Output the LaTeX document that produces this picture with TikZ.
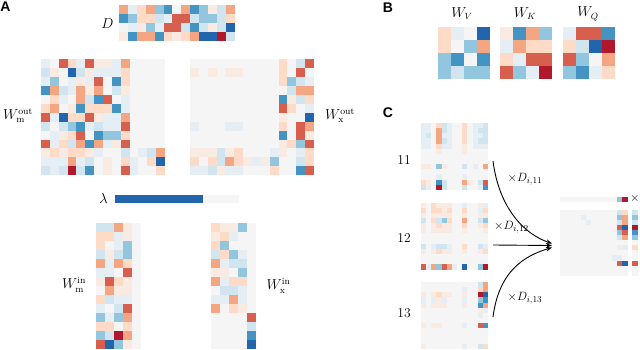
\documentclass[tikz,border=0pt]{standalone}
\usepackage{fontspec}
\usetikzlibrary{arrows.meta}
\newfontfamily\panelfont{Liberation Sans}
\definecolor{hma}{HTML}{B2182B}
\definecolor{hmr}{HTML}{D6604D}
\definecolor{hmo}{HTML}{F4A582}
\definecolor{hmp}{HTML}{FDDBC7}
\definecolor{hmq}{HTML}{F9EAE2}
\definecolor{hmw}{HTML}{F5F5F5}
\definecolor{hme}{HTML}{E4EEF4}
\definecolor{hmc}{HTML}{D1E5F0}
\definecolor{hml}{HTML}{92C5DE}
\definecolor{hmb}{HTML}{4393C3}
\definecolor{hmd}{HTML}{2166AC}
% #1 x, #2 y, #3 cell width, #4 cell height, #5 rows
\newcommand\hmap[5]{%
  \foreach \row [count=\i] in {#5} {%
    \foreach \v [count=\j] in \row {%
      \fill[hm\v] ({#1+(\j-1)*#3},{#2+(\i-1)*#4}) rectangle ++({#3+0.3},{#4+0.3});
    }%
  }%
}
\tikzset{
  lbl/.style={font=\fontsize{13.5}{15}\selectfont, inner sep=0pt},
  clbl/.style={font=\fontsize{12.5}{14}\selectfont, inner sep=0pt},
  panel/.style={font=\panelfont\bfseries\fontsize{14}{16}\selectfont, inner sep=0pt},
  arr/.style={-{Stealth[length=6pt,width=4.5pt]}, line width=0.9pt}
}
\begin{document}
\begin{tikzpicture}[x=1pt,y=-1pt]
\useasboundingbox (0,0) rectangle (640,350);
% panel labels
\node[panel] (pA) at (5.5,7) {A};
\node[panel] (pB) at (388,7.5) {B};
\node[panel] (pC) at (388,112.5) {C};
% D
\node[lbl] (lD) at (107.5,23.5) {$D$};
\hmap{119}{5}{8.9}{9}{
 {o,e,p,o,l,b,w,o,b,l,q,c,o},
 {b,l,p,p,c,e,r,r,c,l,l,c,p},
 {w,e,q,l,e,r,r,c,b,c,q,c,d},
 {q,b,o,o,b,p,q,p,o,d,d,a,c}}
% W_m^out
\node[lbl] (lWmo) at (18,115.5) {$W_{\mathrm{m}}^{\mathrm{out}}$};
\hmap{41}{59.5}{8.86}{8.9}{
 {e,w,r,p,e,r,q,q,e,o,w,w,w,w},
 {c,q,w,d,c,q,e,e,e,p,w,w,w,w},
 {e,l,w,e,q,e,r,w,b,p,w,w,w,w},
 {b,o,c,e,o,q,o,w,c,q,w,w,w,w},
 {w,p,e,w,o,c,b,r,w,e,w,w,w,w},
 {p,o,w,q,b,p,p,p,b,e,w,w,w,w},
 {r,e,d,p,p,r,q,e,e,o,w,w,w,w},
 {c,w,c,l,b,e,c,e,e,r,w,w,w,w},
 {w,e,q,p,r,w,b,l,l,p,w,w,w,w},
 {r,e,p,c,o,b,o,e,q,r,w,w,w,w},
 {q,p,q,p,p,q,e,w,w,c,w,e,c,o},
 {e,e,e,o,e,c,w,q,w,p,e,w,p,d},
 {c,e,c,a,c,b,w,q,w,r,e,w,w,p}}
% W_x^out
\node[lbl] (lWxo) at (340,115.5) {$W_{\mathrm{x}}^{\mathrm{out}}$};
\hmap{190}{59.5}{8.86}{8.9}{
 {w,w,w,w,w,w,w,w,w,w,p,w,c,r},
 {q,w,q,w,q,q,w,w,w,w,p,w,r,w},
 {w,w,w,w,w,w,w,w,w,w,p,l,c,e},
 {w,w,w,w,w,w,w,w,w,w,w,c,o,o},
 {w,w,w,w,w,w,w,w,w,w,b,q,c,p},
 {w,w,w,w,w,w,w,w,w,w,r,p,w,e},
 {w,w,w,w,w,w,w,w,w,w,q,w,w,d},
 {e,w,w,w,e,e,w,w,w,w,p,w,r,o},
 {w,w,w,w,w,w,w,w,w,w,b,w,r,q},
 {w,w,w,w,w,w,w,w,w,w,q,p,l,r},
 {q,q,q,c,q,p,w,w,w,e,q,w,e,p},
 {p,w,p,c,o,p,q,e,q,l,w,w,c,p},
 {e,e,c,q,e,e,w,w,w,p,w,w,b,r}}
% lambda
\node[lbl] (llam) at (103.5,199) {$\lambda$};
\hmap{115}{194.5}{8.8}{8.5}{{d,d,d,d,d,d,d,d,d,d,w,w,w,w}}
% W_m^in
\node[lbl] (lWmi) at (74,285) {$W_{\mathrm{m}}^{\mathrm{in}}$};
\hmap{96}{222.5}{8.9}{9}{
 {c,c,o,q,w},
 {p,p,e,q,w},
 {p,w,e,l,w},
 {c,q,c,l,w},
 {o,e,o,p,w},
 {e,e,w,r,w},
 {q,r,p,q,w},
 {w,o,q,q,w},
 {p,c,e,e,w},
 {e,w,c,r,w},
 {l,e,l,o,w},
 {p,p,w,p,w},
 {l,c,a,o,w},
 {r,d,l,q,w}}
% W_x^in
\node[lbl] (lWxi) at (278.5,286) {$W_{\mathrm{x}}^{\mathrm{in}}$};
\hmap{211}{222.5}{8.9}{9}{
 {p,q,q,l,w},
 {q,p,e,w,w},
 {p,l,w,w,w},
 {c,p,l,e,w},
 {o,e,c,c,w},
 {q,q,w,l,w},
 {o,e,p,p,w},
 {w,c,c,e,w},
 {e,e,o,e,w},
 {o,w,p,q,w},
 {w,w,w,w,r},
 {w,w,w,w,c},
 {w,w,w,w,b},
 {w,w,w,w,d}}
% B
\node[lbl] (lWV) at (462,14) {$W_V$};
\node[lbl] (lWK) at (525,14) {$W_K$};
\node[lbl] (lWQ) at (588,14) {$W_Q$};
\hmap{438}{27}{13}{13}{
 {p,e,w,d},
 {p,w,l,o},
 {l,b,w,b},
 {l,c,l,l}}
\hmap{500}{27}{13}{13}{
 {q,b,o,l},
 {e,o,p,p},
 {p,e,r,r},
 {r,l,e,a}}
\hmap{563}{27}{13}{13}{
 {e,r,r,b},
 {p,c,d,a},
 {r,l,w,o},
 {l,b,e,p}}
% C
\node[lbl] (n11) at (404,160.5) {11};
\node[lbl] (n12) at (404,238.5) {12};
\node[lbl] (n13) at (404,313.5) {13};
\hmap{421}{123}{5.15}{5.15}{
 {e,e,w,p,c,e,w,w,p,w,e,e,c},
 {e,e,w,o,c,e,w,w,p,w,e,c,c},
 {e,c,w,o,e,e,w,w,p,w,e,e,c},
 {e,e,w,o,c,e,w,w,p,w,e,c,c},
 {e,e,w,p,e,e,w,w,q,w,e,e,e},
 {w,w,w,q,w,w,w,w,q,w,w,w,w},
 {w,w,w,w,w,w,w,w,w,w,w,w,w},
 {w,w,w,w,w,w,w,w,w,w,w,w,w},
 {q,q,w,l,q,w,w,w,c,w,e,w,o},
 {w,w,w,w,w,w,w,w,w,w,w,w,w},
 {w,w,w,e,w,w,w,w,e,w,w,w,w},
 {p,q,w,b,c,w,w,w,o,q,w,c,r},
 {c,e,w,a,c,w,w,w,c,w,w,e,b}}
\hmap{421}{202.5}{5.15}{5.15}{
 {q,w,p,q,q,q,w,w,e,w,w,q,e},
 {p,w,p,p,q,p,w,w,p,w,w,e,p},
 {q,w,q,q,q,q,w,w,q,w,w,q,q},
 {c,w,p,c,l,p,w,w,o,w,w,c,l},
 {q,w,q,p,q,q,w,w,p,w,w,q,p},
 {q,w,q,q,q,q,w,w,q,w,w,w,q},
 {w,w,w,w,w,w,w,w,w,w,w,w,w},
 {w,w,w,w,w,w,w,w,w,w,w,w,w},
 {c,w,e,c,c,e,w,w,p,w,w,c,e},
 {q,w,q,p,q,q,w,w,q,w,w,q,p},
 {w,w,w,w,w,w,w,w,w,w,w,w,w},
 {w,w,w,w,w,w,w,w,w,w,w,w,w},
 {r,e,o,l,r,o,e,w,d,w,w,l,a}}
\hmap{421}{282}{5.15}{5.15}{
 {w,w,w,w,w,w,w,w,w,w,w,c,o},
 {w,w,w,w,w,w,w,w,e,w,w,p,o},
 {q,w,q,p,q,q,w,w,q,w,w,a,d},
 {e,w,e,q,e,w,w,w,e,w,w,l,b},
 {q,w,q,q,q,w,w,w,q,w,w,b,o},
 {w,w,w,w,w,w,w,w,w,w,w,q,e},
 {w,w,w,w,w,w,w,w,w,w,w,e,w},
 {w,w,w,w,w,w,w,w,w,w,w,w,w},
 {q,w,q,q,w,w,w,w,e,w,w,r,b},
 {w,w,w,w,w,w,w,w,w,w,w,w,w},
 {w,w,w,w,w,w,w,w,w,w,w,w,w},
 {w,w,w,w,w,w,w,w,w,w,w,w,w},
 {q,w,w,w,w,w,w,w,e,w,w,c,p}}
% result
\hmap{560}{197}{5.2}{5}{{w,w,w,w,w,w,w,w,w,w,w,l,a}}
\node[clbl] (times) at (634.8,198.5) {$\times$};
\hmap{560}{210}{5.2}{5.05}{
 {w,w,w,w,w,w,w,w,w,w,w,c,p},
 {w,w,w,w,e,w,w,w,w,w,w,l,o},
 {w,w,w,w,w,e,w,w,w,w,w,c,o},
 {w,w,w,w,w,w,w,w,w,w,w,r,d},
 {w,w,w,w,w,w,w,w,w,w,w,l,r},
 {w,w,w,w,w,w,w,w,w,w,w,c,o},
 {w,w,w,w,w,w,w,w,w,w,w,w,w},
 {w,w,w,w,w,w,w,w,w,w,w,q,e},
 {w,w,w,w,w,w,w,w,w,w,w,w,w},
 {w,w,w,w,w,w,w,w,w,w,e,e,w},
 {w,w,w,w,w,w,w,w,w,w,w,r,d},
 {w,w,w,w,w,w,w,w,w,w,w,w,w},
 {w,w,w,w,w,w,w,w,w,w,w,w,w}}
\hmap{632}{210}{5.5}{5.05}{
 {c},{l},{c},{a},{b},{l},{w},{p},{w},{w},{r},{w},{w}}
% arrows
\coordinate (s11) at (493,161);
\coordinate (s12) at (493,245);
\coordinate (s13) at (493,317);
\coordinate (t11) at (552,243.5);
\coordinate (t12) at (552,245.5);
\coordinate (t13) at (552,247.5);
\draw[arr] (s11) .. controls (499,208) and (524,234) .. (t11);
\draw[arr] (s12) -- (t12);
\draw[arr] (s13) .. controls (499,271) and (524,256) .. (t13);
\node[clbl] (d11) at (525,179) {$\times D_{i,11}$};
\node[clbl] (d12) at (511.5,227.5) {$\times D_{i,12}$};
\node[clbl] (d13) at (525,298) {$\times D_{i,13}$};
\end{tikzpicture}
\end{document}
